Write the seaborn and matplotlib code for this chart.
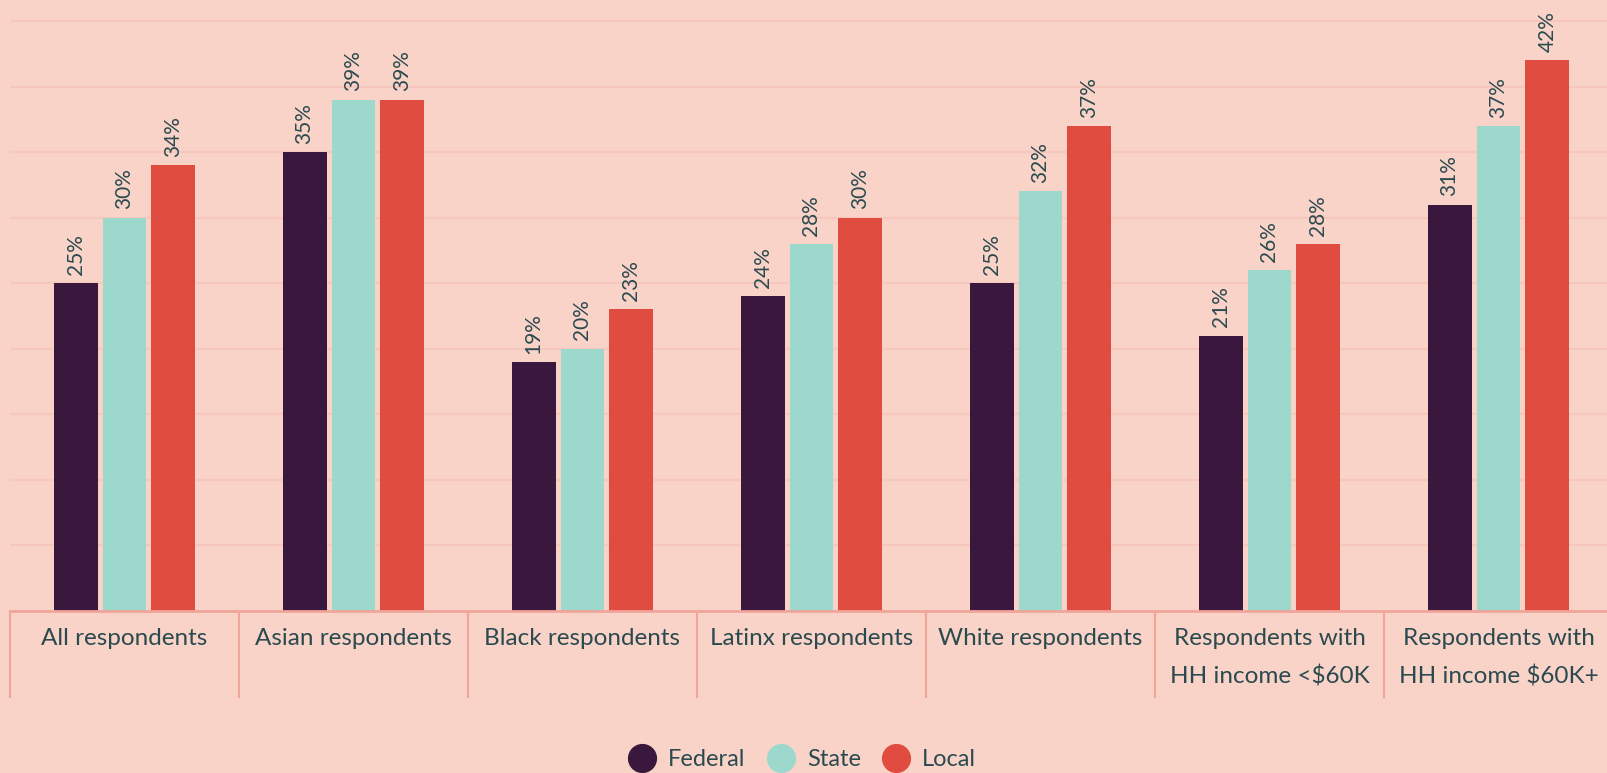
import pandas as pd
import matplotlib.pyplot as plt
import seaborn as sns
from matplotlib.lines import Line2D

groups = ['All respondents', 'Asian respondents', 'Black respondents', 'Latinx respondents',
          'White respondents', 'Respondents with\nHH income <$60K', 'Respondents with\nHH income $60K+']
levels = ['Federal', 'State', 'Local']
federal = [25, 35, 19, 24, 25, 21, 31]
state = [30, 39, 20, 28, 32, 26, 37]
local = [34, 39, 23, 30, 37, 28, 42]

bg = '#F9D3C8'
text_col = '#2B4A4F'
colors = {'Federal': '#3A173C', 'State': '#9DD8CC', 'Local': '#E04D40'}

df = pd.DataFrame({
    'group': groups * 3,
    'level': ['Federal'] * 7 + ['State'] * 7 + ['Local'] * 7,
    'value': federal + state + local,
})

sns.set_theme(style='white')
plt.rcParams['font.family'] = ['Lato', 'DejaVu Sans']

fig = plt.figure(figsize=(16.08, 7.73), dpi=100)
fig.patch.set_facecolor(bg)
ax = fig.add_axes([10 / 1608, 162 / 773, 1603 / 1608, 611 / 773])
ax.set_facecolor(bg)

sns.barplot(data=df, x='group', y='value', hue='level', hue_order=levels,
            palette=colors, width=0.64, gap=0.1, saturation=1, linewidth=0,
            ax=ax, legend=False)

for cont in ax.containers:
    ax.bar_label(cont, fmt='%d%%', rotation=90, padding=6, fontsize=15, color=text_col)

ax.set_ylim(0, 46.6)
ax.set_xlim(-0.5, 6.5)
ax.set_yticks(range(5, 50, 5))
ax.yaxis.grid(True, color='#F7C6BC', linewidth=1.5)
ax.set_axisbelow(True)
ax.set_yticklabels([])
ax.tick_params(axis='y', length=0)
ax.tick_params(axis='x', length=0, pad=12)
for lab in ax.get_xticklabels():
    lab.set_fontsize(17.5)
    lab.set_color(text_col)
    lab.set_linespacing(1.95)
ax.set_xlabel('')
ax.set_ylabel('')
for s in ['top', 'right', 'left']:
    ax.spines[s].set_visible(False)
ax.spines['bottom'].set_color('#F0A49A')
ax.spines['bottom'].set_linewidth(2)

ax.vlines([i - 0.5 for i in range(len(groups) + 1)], -6.6, 0,
          colors='#F0A49A', linewidth=1.5, clip_on=False)

handles = [Line2D([0], [0], marker='o', linestyle='', markersize=20,
                  markerfacecolor=colors[k], markeredgecolor=colors[k]) for k in levels]
leg = fig.legend(handles, levels, loc='center', bbox_to_anchor=(802 / 1608, 1 - 760 / 773),
                 ncol=3, frameon=False, fontsize=17, handletextpad=0.5, columnspacing=0.9,
                 handlelength=1.2)
for t in leg.get_texts():
    t.set_color(text_col)

plt.savefig('out.png', facecolor=bg)
plt.close()
